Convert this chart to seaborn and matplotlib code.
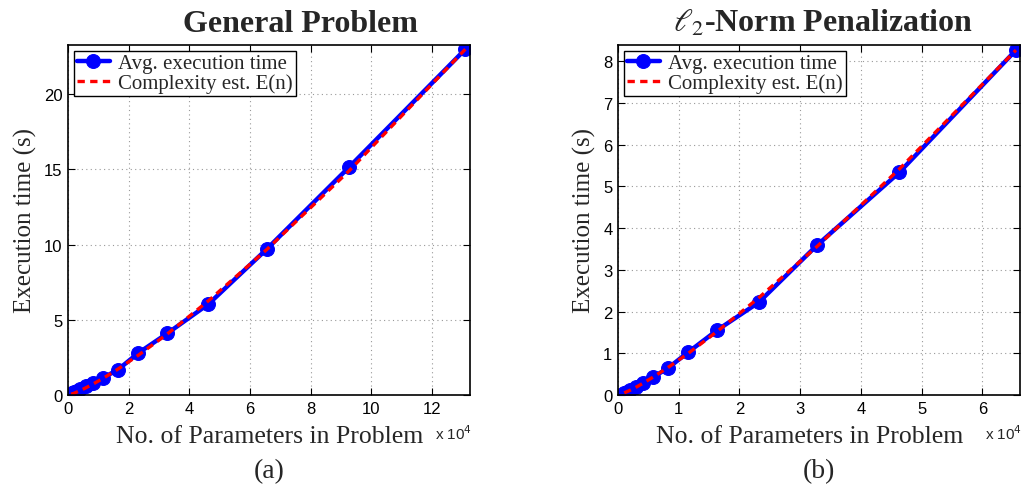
import numpy as np
import pandas as pd
import matplotlib
matplotlib.use("Agg")
import matplotlib.pyplot as plt
from matplotlib.ticker import FuncFormatter, MultipleLocator
import seaborn as sns

# ---- data ----
n_general = [1024, 1448, 2048, 2896, 4096, 5793, 8192, 11585, 16384, 23170,
             32768, 46341, 65536, 92682, 131072]
t_general = [0.08, 0.13, 0.19, 0.28, 0.40, 0.58, 0.80, 1.15, 1.67, 2.79,
             4.10, 6.05, 9.70, 15.15, 23.0]
e_general = [0.05, 0.08, 0.12, 0.20, 0.30, 0.47, 0.72, 1.11, 1.71, 2.64,
             4.06, 6.27, 9.67, 14.9, 23.0]

n_l2 = [1024, 1448, 2048, 2896, 4096, 5793, 8192, 11585, 16384, 23170,
        32768, 46341, 65536]
t_l2 = [0.05, 0.08, 0.12, 0.18, 0.28, 0.43, 0.64, 1.03, 1.56, 2.22,
        3.59, 5.34, 8.27]
e_l2 = [0.05, 0.079, 0.117, 0.18, 0.28, 0.43, 0.655, 1.0, 1.53, 2.33,
        3.56, 5.42, 8.27]

titles = ["General Problem", r"$\ell_2$-Norm Penalization"]
captions = ["(a)", "(b)"]
xlabel = "No. of Parameters in Problem"
ylabel = "Execution time (s)"
legend_labels = ["Avg. execution time", "Complexity est. E(n)"]

# ---- style ----
sns.set_style("ticks")
plt.rcParams["font.family"] = ["Liberation Sans", "DejaVu Sans"]
plt.rcParams["mathtext.fontset"] = "stix"
plt.rcParams["xtick.direction"] = "in"
plt.rcParams["ytick.direction"] = "in"

SERIF = ["Liberation Serif", "DejaVu Serif"]

fig = plt.figure(figsize=(10.24, 4.89), dpi=100)
W, H = 1024, 489
ax_bounds = [(68, 470), (618, 1020)]
top_px, bot_px = 45.7, 396

specs = [
    dict(n=n_general, t=t_general, e=e_general, xlim=132600, ylim=23.3,
         xstep=20000, ystep=5, title_x=300, xlab_x=270),
    dict(n=n_l2, t=t_l2, e=e_l2, xlim=66200, ylim=8.4,
         xstep=10000, ystep=1, title_x=823, xlab_x=810),
]

for i, (sp, (l, r)) in enumerate(zip(specs, ax_bounds)):
    ax = fig.add_axes([l / W, 1 - bot_px / H, (r - l) / W, (bot_px - top_px) / H])
    df = pd.DataFrame({"n": sp["n"], "t": sp["t"], "e": sp["e"]})
    sns.lineplot(data=df, x="n", y="t", ax=ax, color="#0000ff", lw=3.2,
                 marker="o", markersize=10, markeredgecolor="#0000ff",
                 markerfacecolor="#0000ff", label=legend_labels[0])
    sns.lineplot(data=df, x="n", y="e", ax=ax, color="#ff0000", lw=2.4,
                 dashes=(2.2, 1.6), label=legend_labels[1])
    ax.set_xlim(0, sp["xlim"])
    ax.set_ylim(0, sp["ylim"])
    ax.xaxis.set_major_locator(MultipleLocator(sp["xstep"]))
    ax.yaxis.set_major_locator(MultipleLocator(sp["ystep"]))
    ax.xaxis.set_major_formatter(FuncFormatter(lambda v, p: f"{v/1e4:g}"))
    ax.tick_params(axis="both", labelsize=12, top=True, right=True,
                   length=5, width=0.8, colors="black", pad=4)
    for s in ax.spines.values():
        s.set_linewidth(1.2)
        s.set_color("black")
    ax.grid(True, linestyle=(0, (1, 3)), color="#999999", lw=0.8)
    ax.set_xlabel(xlabel, fontsize=18.5, family=SERIF)
    ax.xaxis.set_label_coords((sp["xlab_x"] - l) / (r - l), -0.085)
    ax.set_ylabel(ylabel, fontsize=18, family=SERIF, labelpad=5)
    fig.text(sp["title_x"] / W, 1 - 32 / H, titles[i], fontsize=23,
             family=SERIF, weight="bold", ha="center", va="baseline")
    leg = ax.legend(loc="upper left", prop={"family": SERIF, "size": 15},
                    frameon=True, fancybox=False, edgecolor="black",
                    framealpha=1, borderpad=0.12, labelspacing=0.02,
                    handlelength=1.6, handletextpad=0.4,
                    borderaxespad=0.3)
    leg.get_frame().set_linewidth(1.0)
    fig.text((r - 35) / W, 1 - 440 / H, r"x 10$^4$", fontsize=11,
             ha="left", va="baseline", family=["Liberation Sans", "DejaVu Sans"],
             math_fontfamily="dejavusans")
    fig.text((l + r) / 2 / W, 1 - 478 / H, captions[i], fontsize=20,
             family=SERIF, ha="center", va="baseline")

fig.savefig("out.png", dpi=100)
